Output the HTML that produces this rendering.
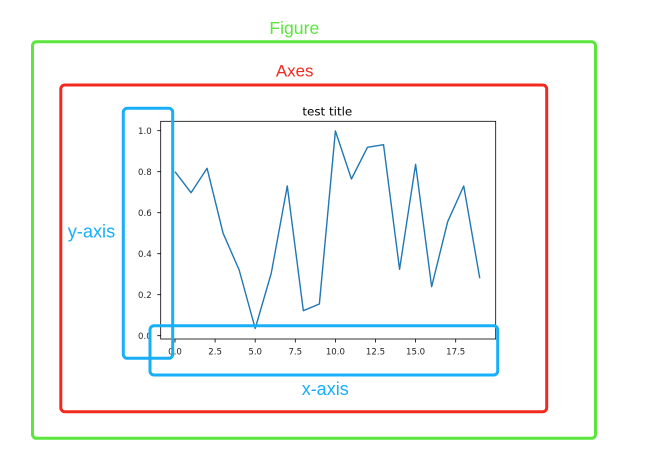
<!DOCTYPE html>
<html><head><meta charset="utf-8"><style>
html,body{margin:0;padding:0;background:#fff;}
svg{display:block;}
</style></head><body>
<svg width="669" height="475" viewBox="0 0 669 475" xmlns="http://www.w3.org/2000/svg">
<rect width="669" height="475" fill="#fff"/>
<!-- axes spines -->
<rect x="160.7" y="121.3" width="335" height="217.7" fill="none" stroke="#000" stroke-width="0.8"/>
<!-- y ticks -->
<g stroke="#000" stroke-width="0.8">
<line x1="157.2" y1="335.7" x2="160.7" y2="335.7"/>
<line x1="157.2" y1="294.7" x2="160.7" y2="294.7"/>
<line x1="157.2" y1="253.7" x2="160.7" y2="253.7"/>
<line x1="157.2" y1="212.7" x2="160.7" y2="212.7"/>
<line x1="157.2" y1="171.7" x2="160.7" y2="171.7"/>
<line x1="157.2" y1="130.7" x2="160.7" y2="130.7"/>
<line x1="175" y1="339" x2="175" y2="342.5"/>
<line x1="215.1" y1="339" x2="215.1" y2="342.5"/>
<line x1="255.2" y1="339" x2="255.2" y2="342.5"/>
<line x1="295.3" y1="339" x2="295.3" y2="342.5"/>
<line x1="335.4" y1="339" x2="335.4" y2="342.5"/>
<line x1="375.5" y1="339" x2="375.5" y2="342.5"/>
<line x1="415.6" y1="339" x2="415.6" y2="342.5"/>
<line x1="455.7" y1="339" x2="455.7" y2="342.5"/>
</g>
<g font-family="'DejaVu Sans', sans-serif" font-size="8.6" fill="#262626" text-anchor="end">
<text x="151.7" y="338.8">0.0</text>
<text x="151.7" y="297.8">0.2</text>
<text x="151.7" y="256.8">0.4</text>
<text x="151.7" y="215.8">0.6</text>
<text x="151.7" y="174.8">0.8</text>
<text x="151.7" y="133.8">1.0</text>
</g>
<g font-family="'DejaVu Sans', sans-serif" font-size="8.6" fill="#262626" text-anchor="middle">
<text x="175" y="354.3">0.0</text>
<text x="215.1" y="354.3">2.5</text>
<text x="255.2" y="354.3">5.0</text>
<text x="295.3" y="354.3">7.5</text>
<text x="335.4" y="354.3">10.0</text>
<text x="375.5" y="354.3">12.5</text>
<text x="415.6" y="354.3">15.0</text>
<text x="455.7" y="354.3">17.5</text>
</g>
<text x="327.3" y="115.5" font-family="'DejaVu Sans', sans-serif" font-size="11.9" fill="#000" text-anchor="middle">test title</text>
<!-- data line -->
<polyline fill="none" stroke="#1f77b4" stroke-width="1.4" stroke-linejoin="round"
points="175,171.7 191.04,192.7 207.08,168.3 223.12,233.3 239.16,270 255.2,328.5 271.24,273.3 287.28,186 303.32,310.7 319.36,304 335.4,131 351.44,179 367.48,147.3 383.52,144.7 399.56,269.3 415.6,164.3 431.64,286.7 447.68,221.7 463.72,186 479.76,278.3"/>
<!-- annotation boxes -->
<rect x="32.5" y="41.8" width="563" height="396.5" rx="4" fill="none" stroke="#5ae63b" stroke-width="3"/>
<rect x="60.8" y="85" width="485.9" height="326.7" rx="4" fill="none" stroke="#f12a1f" stroke-width="3"/>
<rect x="123.3" y="108.3" width="49.4" height="250" rx="4" fill="none" stroke="#18aff8" stroke-width="3"/>
<rect x="150" y="325.8" width="347.7" height="49.2" rx="4" fill="none" stroke="#18aff8" stroke-width="3"/>
<!-- annotation labels -->
<g font-family="'Liberation Sans', sans-serif">
<text x="294.3" y="34" font-size="17.6" fill="#5ae63b" text-anchor="middle">Figure</text>
<text x="294.7" y="76.7" font-size="16.9" fill="#f12a1f" text-anchor="middle">Axes</text>
<text x="67.7" y="237.3" font-size="18.2" fill="#18aff8">y-axis</text>
<text x="301.7" y="395" font-size="18" fill="#18aff8">x-axis</text>
</g>
</svg>
</body></html>
